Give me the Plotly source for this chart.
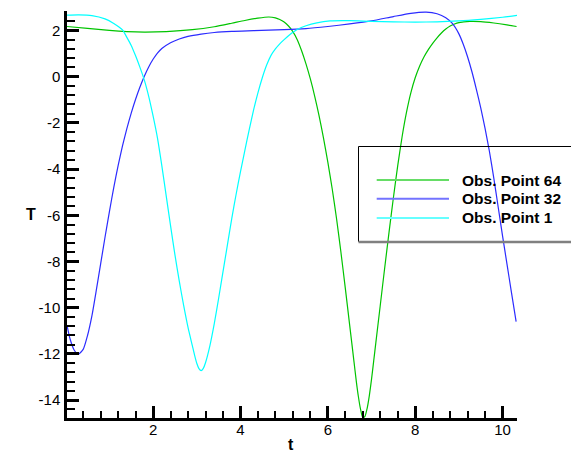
import plotly.graph_objects as go

# ---- data ----
t_p1 = [0.03, 0.3, 0.6, 0.9, 1.1, 1.3, 1.4, 1.5, 1.6, 1.7, 1.8, 1.9, 2.0, 2.1, 2.2, 2.3, 2.4, 2.5, 2.6, 2.7,
        2.8, 2.9, 2.95, 3.0, 3.05, 3.1, 3.15, 3.2, 3.3, 3.4, 3.5, 3.6, 3.7, 3.8, 3.9, 4.0, 4.1, 4.2, 4.3, 4.4,
        4.5, 4.6, 4.7, 4.8, 4.9, 5.0, 5.1, 5.2, 5.3, 5.5, 5.75, 6.05, 6.5, 7.0, 7.5, 8.0, 8.5, 9.0, 9.5, 10.0, 10.33]
T_p1 = [2.66, 2.67, 2.64, 2.5, 2.3, 2.02, 1.7, 1.35, 0.9, 0.4, -0.15, -0.85, -1.7, -2.65, -3.85, -5.15, -6.45, -7.7, -8.85, -9.9,
        -10.85, -11.65, -12.05, -12.4, -12.63, -12.72, -12.62, -12.38, -11.65, -10.7, -9.6, -8.45, -7.3, -6.15, -5.1, -4.12, -3.2, -2.3, -1.45, -0.7,
        -0.05, 0.5, 0.92, 1.2, 1.42, 1.6, 1.77, 1.92, 2.04, 2.2, 2.33, 2.41, 2.42, 2.39, 2.37, 2.36, 2.37, 2.41, 2.48, 2.57, 2.65]

t_p32 = [0.03, 0.1, 0.2, 0.29, 0.4, 0.5, 0.6, 0.7, 0.8, 0.9, 1.0, 1.1, 1.2, 1.3, 1.4, 1.5, 1.6, 1.7, 1.8, 1.9,
         2.0, 2.1, 2.2, 2.4, 2.6, 2.8, 3.1, 3.4, 3.8, 4.3, 5.0, 5.5, 6.0, 6.5, 7.0, 7.5, 7.9, 8.25, 8.5, 8.7,
         8.85, 9.0, 9.1, 9.2, 9.3, 9.4, 9.5, 9.6, 9.7, 9.8, 9.9, 10.0, 10.1, 10.2, 10.31]
T_p32 = [-10.76, -11.35, -11.85, -12.01, -11.8, -11.2, -10.35, -9.25, -8.1, -6.95, -5.85, -4.8, -3.85, -3.0, -2.25, -1.58, -0.98, -0.45, 0.02, 0.42,
         0.75, 1.02, 1.22, 1.47, 1.63, 1.74, 1.84, 1.91, 1.96, 1.99, 2.03, 2.08, 2.17, 2.28, 2.41, 2.6, 2.74, 2.79, 2.72, 2.55,
         2.3, 1.85, 1.4, 0.85, 0.2, -0.55, -1.35, -2.25, -3.25, -4.4, -5.65, -6.9, -8.1, -9.3, -10.6]

t_p64 = [0.03, 0.5, 1.0, 1.4, 1.8, 2.3, 2.9, 3.4, 3.8, 4.1, 4.4, 4.65, 4.8, 4.9, 5.0, 5.1, 5.2, 5.3, 5.4, 5.5,
         5.6, 5.7, 5.8, 5.9, 6.0, 6.1, 6.2, 6.3, 6.4, 6.5, 6.6, 6.65, 6.7, 6.75, 6.8, 6.85, 6.9, 6.95, 7.0, 7.05,
         7.1, 7.2, 7.3, 7.4, 7.5, 7.6, 7.7, 7.8, 7.9, 8.0, 8.1, 8.2, 8.3, 8.4, 8.5, 8.6, 8.7, 8.8, 8.9, 9.0,
         9.25, 9.5, 9.8, 10.1, 10.32]
T_p64 = [2.17, 2.09, 2.0, 1.95, 1.93, 1.95, 2.03, 2.16, 2.31, 2.43, 2.53, 2.58, 2.54, 2.47, 2.36, 2.19, 1.95, 1.6, 1.12, 0.55,
         -0.1, -0.85, -1.7, -2.65, -3.7, -4.85, -6.15, -7.6, -9.15, -10.75, -12.35, -13.15, -13.85, -14.4, -14.75, -14.7, -14.35, -13.8, -13.1, -12.3,
         -11.5, -9.9, -8.3, -6.75, -5.25, -3.85, -2.6, -1.55, -0.7, -0.05, 0.45, 0.85, 1.17, 1.44, 1.68, 1.89, 2.06, 2.19, 2.28, 2.34,
         2.39, 2.38, 2.32, 2.24, 2.17]

series_names = ["Obs. Point 64", "Obs. Point 32", "Obs. Point 1"]
series_colors = ["#00c400", "#2b2bff", "#00ffff"]
legend_colors = ["#66dd66", "#7373ff", "#66ffff"]

x_range = [0.03, 10.33]
y_range = [-14.77, 2.84]
x_tickvals = [2, 4, 6, 8, 10]
x_ticktext = ["2", "4", "6", "8", "10"]
y_tickvals = [-14, -12, -10, -8, -6, -4, -2, 0, 2]
y_ticktext = ["-14", "-12", "-10", "-8", "-6", "-4", "-2", "0", "2"]

W, H = 571, 453
L, R, TOP, B = 67, 54, 11, 35
pw, ph = W - L - R, H - TOP - B


def px(x):
    return (x - L) / pw


def py(y):
    return (H - B - y) / ph


fig = go.Figure()
for name, tt, TT, col in zip(series_names, [t_p64, t_p32, t_p1], [T_p64, T_p32, T_p1], series_colors):
    fig.add_trace(go.Scatter(x=tt, y=TT, mode="lines", name=name,
                             line=dict(color=col, width=1.2, shape="spline", smoothing=0.6),
                             showlegend=False))

axis_common = dict(
    showgrid=False, zeroline=False, showline=True, linecolor="black", linewidth=2.5,
    ticks="inside", ticklen=12, tickwidth=2.5, tickcolor="black",
    tickfont=dict(family="Liberation Sans, Arial", size=15, color="black"),
    mirror=False, tickmode="array",
)
fig.update_xaxes(range=x_range, tickvals=x_tickvals, ticktext=x_ticktext, ticklabelstandoff=-4, **axis_common,
                 minor=dict(ticks="inside", ticklen=7, tickwidth=1.5, tickcolor="black", dtick=0.4, tick0=0, showgrid=False))
fig.update_yaxes(range=y_range, tickvals=y_tickvals, ticktext=y_ticktext, ticklabelstandoff=1, **axis_common,
                 minor=dict(ticks="inside", ticklen=8, tickwidth=1.5, tickcolor="black", dtick=0.4, tick0=0, showgrid=False))

shapes = []
annotations = []
# legend box
bx0, by0, by1 = 358.5, 146.5, 241.5
shapes.append(dict(type="rect", xref="paper", yref="paper", x0=px(bx0), x1=px(580), y0=py(by1), y1=py(by0),
                   line=dict(color="black", width=1), fillcolor="rgba(0,0,0,0)", layer="above"))
shapes.append(dict(type="line", xref="paper", yref="paper", x0=px(bx0), x1=px(580), y0=py(by1 + 0.5), y1=py(by1 + 0.5),
                   line=dict(color="#808080", width=2.5), layer="above"))
rows = [180, 198.7, 218]
for name, col, yy in zip(series_names, legend_colors, rows):
    shapes.append(dict(type="line", xref="paper", yref="paper", x0=px(376.7), x1=px(449), y0=py(yy), y1=py(yy),
                       line=dict(color=col, width=2), layer="above"))
    annotations.append(dict(xref="paper", yref="paper", x=px(460), y=py(yy), text="<b>%s</b>" % name,
                            showarrow=False, xanchor="left", yanchor="middle",
                            font=dict(family="Liberation Sans, Arial", size=15.5, color="black")))
# axis titles
annotations.append(dict(xref="paper", yref="paper", x=px(31), y=py(215), text="<b>T</b>", showarrow=False,
                        xanchor="center", yanchor="middle",
                        font=dict(family="Liberation Sans, Arial", size=16, color="black")))
annotations.append(dict(xref="paper", yref="paper", x=px(291), y=py(444), text="<b>t</b>", showarrow=False,
                        xanchor="center", yanchor="middle",
                        font=dict(family="Liberation Sans, Arial", size=16, color="black")))

fig.update_layout(width=W, height=H, margin=dict(l=L, r=R, t=TOP, b=B),
                  paper_bgcolor="white", plot_bgcolor="white", showlegend=False,
                  shapes=shapes, annotations=annotations)

fig.write_html("out.html")
